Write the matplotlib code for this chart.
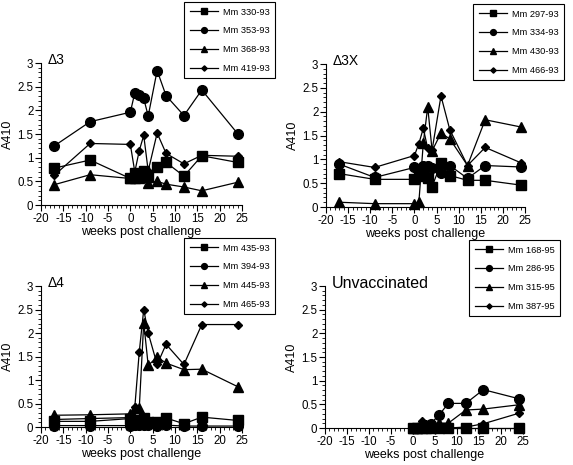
import matplotlib
matplotlib.use("Agg")
import matplotlib.pyplot as plt
from matplotlib.ticker import MultipleLocator

plt.rcParams["font.family"] = ["Liberation Sans", "DejaVu Sans"]
plt.rcParams["axes.unicode_minus"] = False

# ── data ────────────────────────────────────────────────────────────────────
weeks = [-17, -9, 0, 1, 2, 3, 4, 6, 8, 12, 16, 24]
weeks_unvacc = [0, 1, 2, 3, 4, 6, 8, 12, 16, 24]

d3_labels = ["Mm 330-93", "Mm 353-93", "Mm 368-93", "Mm 419-93"]
d3_values = [
    [0.78, 0.95, 0.56, 0.68, 0.63, 0.72, 0.60, 0.80, 0.90, 0.61, 1.04, 0.90],
    [1.25, 1.76, 1.96, 2.37, 2.32, 2.25, 1.88, 2.84, 2.31, 1.89, 2.43, 1.51],
    [0.43, 0.64, 0.56, 0.58, 0.58, 0.60, 0.47, 0.50, 0.44, 0.38, 0.30, 0.48],
    [0.63, 1.30, 1.28, 0.70, 1.15, 1.47, 0.72, 1.52, 1.09, 0.87, 1.05, 1.03],
]

d3x_labels = ["Mm 297-93", "Mm 334-93", "Mm 430-93", "Mm 466-93"]
d3x_values = [
    [0.70, 0.58, 0.58, 0.72, 0.65, 0.60, 0.43, 0.92, 0.66, 0.56, 0.56, 0.46],
    [0.90, 0.62, 0.83, 0.80, 0.85, 0.85, 0.82, 0.72, 0.87, 0.60, 0.87, 0.84],
    [0.10, 0.07, 0.07, 0.10, 1.34, 2.10, 1.18, 1.55, 1.43, 0.87, 1.83, 1.68],
    [0.95, 0.83, 1.08, 1.33, 1.65, 1.23, 1.20, 2.33, 1.62, 0.87, 1.25, 0.93],
]

d4_labels = ["Mm 435-93", "Mm 394-93", "Mm 445-93", "Mm 465-93"]
d4_values = [
    [0.12, 0.12, 0.18, 0.12, 0.15, 0.19, 0.10, 0.11, 0.19, 0.07, 0.21, 0.14],
    [0.03, 0.03, 0.03, 0.05, 0.05, 0.05, 0.05, 0.02, 0.04, 0.02, 0.02, 0.02],
    [0.25, 0.26, 0.28, 0.40, 0.40, 2.22, 1.31, 1.49, 1.36, 1.22, 1.23, 0.86],
    [0.16, 0.18, 0.20, 0.42, 1.60, 2.50, 2.00, 1.33, 1.76, 1.33, 2.18, 2.18],
]

unv_labels = ["Mm 168-95", "Mm 286-95", "Mm 315-95", "Mm 387-95"]
unv_values = [
    [0.00, 0.00, 0.00, 0.00, 0.00, 0.00, 0.00, 0.00, 0.00, 0.00],
    [0.00, 0.00, 0.05, 0.05, 0.09, 0.28, 0.52, 0.52, 0.81, 0.62],
    [0.00, 0.00, 0.04, 0.05, 0.07, 0.10, 0.10, 0.38, 0.40, 0.49],
    [0.00, 0.03, 0.14, 0.08, 0.05, 0.02, 0.00, 0.02, 0.09, 0.31],
]

# ── style ───────────────────────────────────────────────────────────────────
markers = ["s", "o", "^", "D"]
msizes = [6.5, 7, 6.5, 4.5]

W, H = 573, 465
fig = plt.figure(figsize=(W / 100, H / 100), dpi=100)


def px_axes(x0, x1, y_top, y_bot):
    return fig.add_axes([x0 / W, 1 - y_bot / H, (x1 - x0) / W, (y_bot - y_top) / H])


panels = [
    # axes box (px), x data, values, labels, title, title size, legend (left, top px)
    ((41, 242, 63, 205), weeks, d3_values, d3_labels, "Δ3", 10, (184, 2)),
    ((326, 525, 64, 207), weeks, d3x_values, d3x_labels, "Δ3X", 10, (473, 4)),
    ((41, 242, 286, 427), weeks, d4_values, d4_labels, "Δ4", 10, (184, 238)),
    ((325, 523, 286, 428), weeks_unvacc, unv_values, unv_labels, "Unvaccinated", 11.5, (469, 240)),
]

for box, xs, vals, labels, title, tsize, (lx, ly) in panels:
    ax = px_axes(*box)
    for ys, lab, m, ms in zip(vals, labels, markers, msizes):
        ax.plot(xs, ys, color="black", lw=0.9, marker=m, ms=ms,
                mfc="black", mec="black", label=lab, clip_on=False)

    ax.set_xlim(-20, 25)
    ax.set_ylim(0, 3)
    ax.set_xticks(range(-20, 26, 5))
    ax.set_yticks([0, 0.5, 1, 1.5, 2, 2.5, 3])
    ax.set_yticklabels(["0", "0.5", "1", "1.5", "2", "2.5", "3"])
    ax.xaxis.set_minor_locator(MultipleLocator(1))
    ax.yaxis.set_minor_locator(MultipleLocator(0.1))
    ax.tick_params(which="major", direction="out", length=4, width=0.8,
                   labelsize=8.3, pad=1.5)
    ax.tick_params(which="minor", direction="out", length=2, width=0.6)
    for s in ("top", "right"):
        ax.spines[s].set_visible(False)
    for s in ("left", "bottom"):
        ax.spines[s].set_linewidth(0.8)

    ax.set_xlabel("weeks post challenge", fontsize=9, labelpad=1)
    ax.set_ylabel("A410", fontsize=9, labelpad=2)
    ax.text(0.035, 1.02, title, transform=ax.transAxes, fontsize=tsize,
            ha="left", va="center")

    leg = ax.legend(loc="upper left", bbox_to_anchor=(lx / W, 1 - ly / H),
                    bbox_transform=fig.transFigure, fontsize=6.7,
                    frameon=True, fancybox=False, framealpha=1,
                    edgecolor="black", handlelength=3.0, handletextpad=0.6,
                    labelspacing=1.05, borderpad=0.6, borderaxespad=0,
                    markerscale=0.6)
    leg.get_frame().set_linewidth(0.8)

fig.savefig("out.png", dpi=100)
